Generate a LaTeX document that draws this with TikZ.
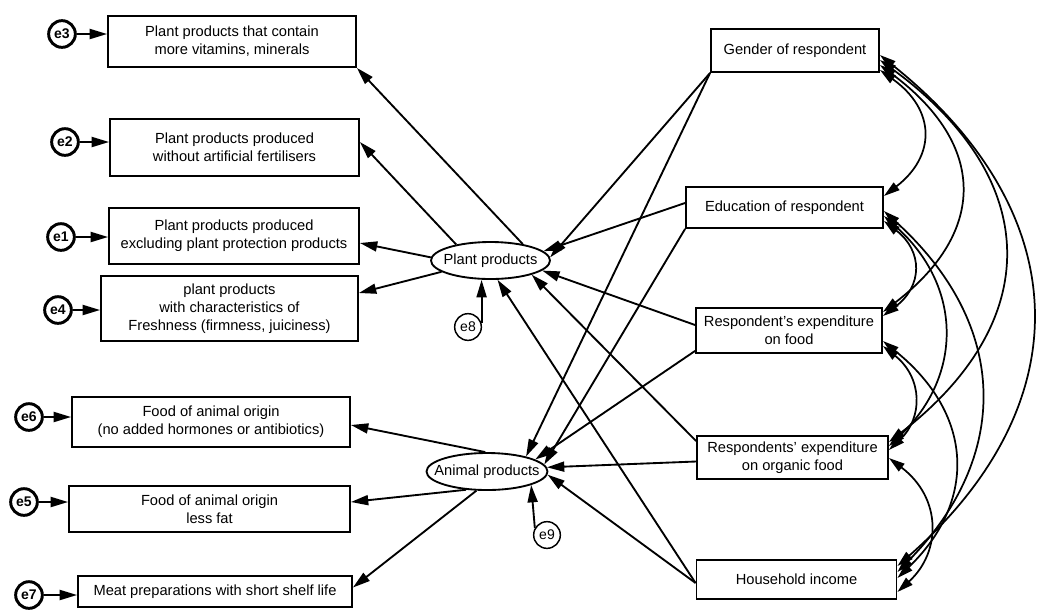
\documentclass[tikz,border=0pt]{standalone}
\usepackage{fontspec}
\setmainfont{Liberation Sans}
\usetikzlibrary{arrows.meta,shapes.geometric,calc}
\newcommand{\fsz}{\fontsize{11}{13.5}\selectfont}
\begin{document}
\begin{tikzpicture}[x=0.75pt,y=-0.75pt,
  box/.style={draw, line width=1.4pt, fill=white, align=center, inner sep=1pt, font=\fsz},
  ell/.style={draw, ellipse, line width=1.4pt, inner sep=0pt, font=\fsz},
  err/.style={draw, circle, line width=2.2pt, minimum size=20pt, inner sep=0pt, font=\bfseries\fontsize{10.5}{12}\selectfont},
  errt/.style={draw, circle, line width=1.1pt, minimum size=20pt, inner sep=0pt, font=\fontsize{10.5}{12}\selectfont},
  arr/.style={line width=1.4pt, -{Triangle[length=13pt,width=7.5pt]}},
  cov/.style={line width=1.3pt, {Triangle[length=12pt,width=7pt]}-{Triangle[length=12pt,width=7pt]}}]
\useasboundingbox (0,0) rectangle (1043,612);

% left indicator boxes
\node[box, minimum width=248*0.75pt, minimum height=51*0.75pt] (b3) at (232,41.5) {Plant products that contain\\more vitamins, minerals};
\node[box, minimum width=249*0.75pt, minimum height=57*0.75pt] (b2) at (234.5,147.5) {Plant products produced\\without artificial fertilisers};
\node[box, minimum width=250*0.75pt, minimum height=56*0.75pt] (b1) at (234,236) {Plant products produced\\excluding plant protection products};
\node[box, minimum width=257*0.75pt, minimum height=65*0.75pt] (b4) at (229.5,308.5) {plant products\\with characteristics of\\Freshness (firmness, juiciness)};
\node[box, minimum width=278*0.75pt, minimum height=50*0.75pt] (b6) at (211,422) {Food of animal origin\\(no added hormones or antibiotics)};
\node[box, minimum width=281*0.75pt, minimum height=46*0.75pt] (b5) at (209.5,509) {Food of animal origin\\less fat};
\node[box, minimum width=274*0.75pt, minimum height=31*0.75pt] (b7) at (215,591.5) {Meat preparations with short shelf life};

% error terms
\node[err] (e3) at (62,34) {e3};
\node[err] (e2) at (65,142) {e2};
\node[err] (e1) at (61,237) {e1};
\node[err] (e4) at (58,310) {e4};
\node[err] (e6) at (29,417) {e6};
\node[err] (e5) at (24,502) {e5};
\node[err] (e7) at (29,595) {e7};
\node[errt] (e8) at (468,327) {e8};
\node[errt] (e9) at (547,535) {e9};

% latent variables
\node[ell, minimum width=119*0.75pt, minimum height=37*0.75pt] (pp) at (490.5,260.5) {\makebox[0pt]{Plant products}};
\node[ell, minimum width=121*0.75pt, minimum height=37*0.75pt] (ap) at (487,471.5) {\makebox[0pt]{Animal products}};

% right boxes
\node[box, minimum width=168*0.75pt, minimum height=43*0.75pt] (gen) at (795,50.5) {Gender of respondent};
\node[box, minimum width=197*0.75pt, minimum height=41*0.75pt] (edu) at (784.5,207.5) {Education of respondent};
\node[box, minimum width=186*0.75pt, minimum height=45*0.75pt] (food) at (789,330.5) {Respondent's expenditure\\on food};
\node[box, minimum width=191*0.75pt, minimum height=43*0.75pt] (org) at (792.5,457.5) {Respondents' expenditure\\on organic food};
\node[box, minimum width=200*0.75pt, minimum height=39*0.75pt] (inc) at (796.5,579.5) {Household income};

% error arrows
\draw[arr] (e3) -- (e3 -| b3.west);
\draw[arr] (e2) -- (e2 -| b2.west);
\draw[arr] (e1) -- (e1 -| b1.west);
\draw[arr] (e4) -- (e4 -| b4.west);
\draw[arr] (e6) -- (e6 -| b6.west);
\draw[arr] (e5) -- (e5 -| b5.west);
\draw[arr] (e7) -- (e7 -| b7.west);
\draw[arr] (e8.15) -- (e8.15 |- pp.south);
\draw[arr] (e9.150) -- (ap.-17);

% loadings
\draw[arr] (pp.27) -- (b3.south east);
\draw[arr] (pp.155) -- ($(b2.east)+(0,-5.5)$);
\draw[arr] (pp.177) -- ($(b1.east)+(0,7)$);
\draw[arr] (pp.193) -- ($(b4.east)+(0,-15.5)$);
\draw[arr] (ap.95) -- ($(b6.east)+(0,3)$);
\draw[arr] (ap.221) -- ($(b5.east)+(0,-7)$);
\draw[arr] (ap.241) -- ($(b7.east)+(0,-4)$);

% regressions
\draw[arr] (gen.south west) -- (pp.3);
\draw[arr] ($(edu.west)+(0,-4.5)$) -- (pp.10);
\draw[arr] ($(food.west)+(0,-5.5)$) -- (pp.-11);
\draw[arr] ($(org.west)+(0,-16.5)$) -- (pp.-19);
\draw[arr] ($(inc.west)+(0,3.5)$) -- (pp.-70);
\draw[arr] (gen.south west) -- (ap.21);
\draw[arr] (edu.south west) -- (ap.7);
\draw[arr] ($(food.south west)+(0,-3)$) -- (ap.14);
\draw[arr] ($(org.west)+(0,4)$) -- (ap.4);
\draw[arr] ($(inc.west)+(0,3.5)$) -- (ap.-3);

% covariances
\draw[cov] (gen.east |- 0,70) .. controls +(56,40) and +(52,-40) .. (edu.east |- 0,196);
\draw[cov] (gen.east |- 0,65) .. controls +(107,80) and +(104,-80) .. (food.east |- 0,312);
\draw[cov] (gen.east |- 0,60) .. controls +(164,120) and +(155,-120) .. (org.east |- 0,442);
\draw[cov] (gen.east |- 0,55) .. controls +(200,160) and +(182,-160) .. (inc.east |- 0,566);
\draw[cov] (edu.east |- 0,221) .. controls +(39,30) and +(40,-30) .. (food.east |- 0,316);
\draw[cov] (edu.east |- 0,216) .. controls +(79,70) and +(74,-70) .. (org.east |- 0,446);
\draw[cov] (edu.east |- 0,211) .. controls +(127,115) and +(113,-115) .. (inc.east |- 0,572);
\draw[cov] (food.east |- 0,346) .. controls +(40,32) and +(34,-32) .. (org.east |- 0,450);
\draw[cov] (food.east |- 0,341) .. controls +(93,75) and +(78,-75) .. (inc.east |- 0,578);
\draw[cov] (org.east |- 0,458) .. controls +(53,40) and +(44,-40) .. (inc.east |- 0,592);
\end{tikzpicture}
\end{document}
